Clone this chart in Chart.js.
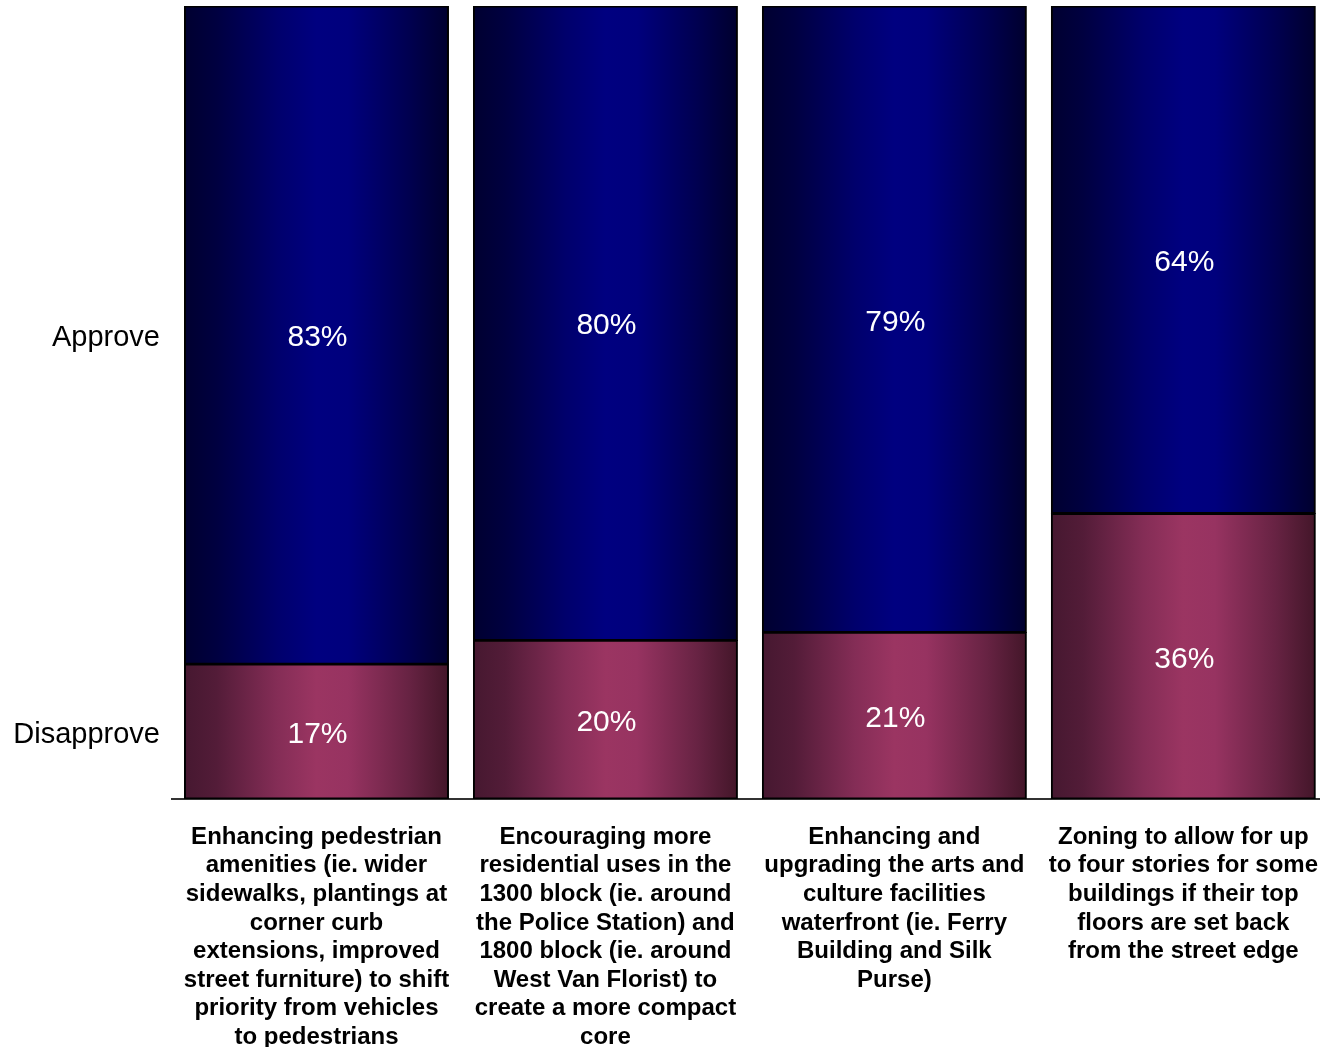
<!DOCTYPE html>
<html>
<head>
<meta charset="utf-8">
<title>Approve / Disapprove</title>
<script src="https://cdn.jsdelivr.net/npm/chart.js@4.4.1/dist/chart.umd.min.js"></script>
<style>
    html, body {
        margin: 0;
        padding: 0;
        background: #fff;
        overflow: hidden;
    }
    #wrap {
        position: relative;
        width: 1342px;
        height: 1047px;
    }
</style>
</head>
<body>
<div id="wrap"><canvas id="surveyChart"></canvas></div>
<script>
// Survey results (percent)
const categories = [
    ['Enhancing pedestrian', 'amenities (ie. wider', 'sidewalks, plantings at', 'corner curb', 'extensions, improved', 'street furniture) to shift', 'priority from vehicles', 'to pedestrians'],
    ['Encouraging more', 'residential uses in the', '1300 block (ie. around', 'the Police Station) and', '1800 block (ie. around', 'West Van Florist) to', 'create a more compact', 'core'],
    ['Enhancing and', 'upgrading the arts and', 'culture facilities', 'waterfront (ie. Ferry', 'Building and Silk', 'Purse)'],
    ['Zoning to allow for up', 'to four stories for some', 'buildings if their top', 'floors are set back', 'from the street edge']
];
const disapprove = [17, 20, 21, 36];
const approve = [83, 80, 79, 64];
const seriesNames = ['Disapprove', 'Approve'];

const FONT = "'Liberation Sans', Arial, sans-serif";
const BAR_PCT = 0.913;

// Horizontal shading across each bar: dark edges, lighter middle
function barGradient(stops) {
    return function(context) {
        const chart = context.chart;
        const area = chart.chartArea;
        if (!area) return stops[Math.floor(stops.length / 2)][1];
        const xScale = chart.scales.x;
        const cx = xScale.getPixelForValue(context.dataIndex);
        const half = (area.right - area.left) / categories.length * BAR_PCT / 2;
        const g = chart.ctx.createLinearGradient(cx - half, 0, cx + half, 0);
        stops.forEach(s => g.addColorStop(s[0], s[1]));
        return g;
    };
}

const maroonStops = [
    [0, '#461830'], [0.12, '#531c38'], [0.35, '#842d56'],
    [0.5, '#9b3562'], [0.62, '#973361'], [0.85, '#672343'], [1, '#431629']
];
const navyStops = [
    [0, '#000030'], [0.12, '#000040'], [0.35, '#00006c'],
    [0.5, '#000080'], [0.62, '#00007d'], [0.85, '#000050'], [1, '#00002e']
];

// White percentages inside each segment, series names to the left of the first bar
const segmentLabels = {
    id: 'segmentLabels',
    afterDatasetsDraw(chart) {
        const ctx = chart.ctx;
        ctx.save();
        ctx.textBaseline = 'middle';
        chart.data.datasets.forEach((ds, i) => {
            const meta = chart.getDatasetMeta(i);
            ctx.textAlign = 'center';
            ctx.font = '30px ' + FONT;
            ctx.fillStyle = '#ffffff';
            meta.data.forEach((bar, j) => {
                ctx.fillText(ds.data[j] + '%', bar.x + 1, (bar.y + bar.base) / 2 + 3);
            });
            const first = meta.data[0];
            ctx.fillStyle = '#000000';
            ctx.textAlign = 'right';
            ctx.font = '29px ' + FONT;
            ctx.fillText(ds.label, 160, (first.y + first.base) / 2 + 3);
        });
        ctx.restore();
    }
};

new Chart(document.getElementById('surveyChart'), {
    type: 'bar',
    data: {
        labels: categories,
        datasets: [{
            label: seriesNames[0],
            data: disapprove,
            backgroundColor: barGradient(maroonStops),
            borderColor: '#000000',
            borderWidth: 2,
            borderSkipped: false,
            inflateAmount: 0.6
        }, {
            label: seriesNames[1],
            data: approve,
            backgroundColor: barGradient(navyStops),
            borderColor: '#000000',
            borderWidth: 2,
            borderSkipped: false,
            inflateAmount: 0.6
        }]
    },
    options: {
        responsive: true,
        maintainAspectRatio: false,
        animation: false,
        datasets: {
            bar: {
                categoryPercentage: 1,
                barPercentage: BAR_PCT
            }
        },
        layout: {
            padding: { left: 172, top: 6, right: 0, bottom: 0 }
        },
        plugins: {
            legend: { display: false },
            tooltip: { enabled: false }
        },
        scales: {
            x: {
                stacked: true,
                grid: { display: false, drawTicks: false },
                border: { display: true, color: '#333333', width: 2 },
                ticks: {
                    autoSkip: false,
                    maxRotation: 0,
                    minRotation: 0,
                    padding: 24,
                    color: '#000000',
                    font: { family: FONT, size: 24, weight: 'bold', lineHeight: 1.19 }
                },
                afterFit: function(scale) {
                    scale.height = 248;
                }
            },
            y: {
                stacked: true,
                display: false,
                min: 0,
                max: 100
            }
        }
    },
    plugins: [segmentLabels]
});
</script>
</body>
</html>
